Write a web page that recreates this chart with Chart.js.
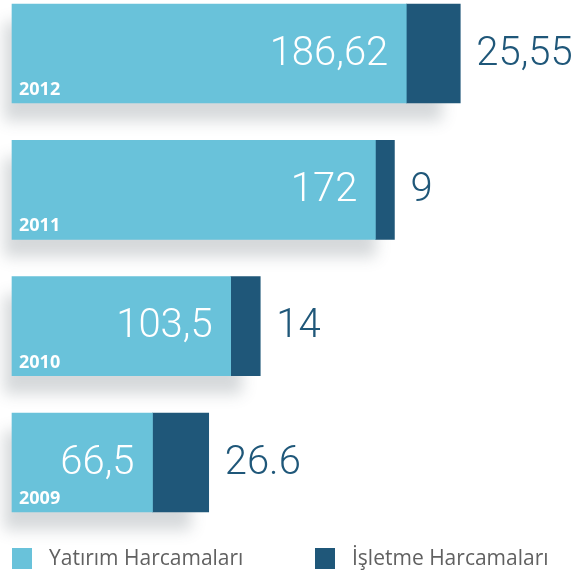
<!DOCTYPE html>
<html>
<head>
<meta charset="utf-8">
<script src="https://cdn.jsdelivr.net/npm/chart.js@4/dist/chart.umd.min.js"></script>
<style>
  html, body { margin:0; padding:0; background:#fff; }
  #wrap { position:relative; width:586px; height:575px; }
  #chart { position:absolute; left:0; top:0; }
  .legend { position:absolute; top:546px; font-family:'Open Sans', sans-serif; font-size:21px; color:#616161; }
  .legend span.sw { position:absolute; top:2px; width:20px; height:21px; }
  .legend span.tx { position:absolute; left:37px; top:-3px; white-space:nowrap; }
</style>
</head>
<body>
<div id="wrap">
  <canvas id="chart" width="586" height="575"></canvas>
  <div class="legend" style="left:12px;"><span class="sw" style="background:#69c2da;"></span><span class="tx">Yatırım Harcamaları</span></div>
  <div class="legend" style="left:315px;"><span class="sw" style="background:#1f5779;"></span><span class="tx">İşletme Harcamaları</span></div>
</div>
<script>
// ---- data ----
const years        = ['2012', '2011', '2010', '2009'];
const investValues = [186.62, 172, 103.5, 66.5];
const opValues     = [25.55, 9, 14, 26.6];
const investLabels = ['186,62', '172', '103,5', '66,5'];
const opLabels     = ['25,55', '9', '14', '26.6'];

const LIGHT = '#69c2da';
const DARK  = '#1f5779';
const NUM_FONT = '300 40px Roboto, sans-serif';

// soft grey shadow under each stacked bar
const shadowPlugin = {
  id: 'barShadow',
  beforeDatasetsDraw(chart) {
    const ctx = chart.ctx;
    const m0 = chart.getDatasetMeta(0), m1 = chart.getDatasetMeta(1);
    ctx.save();
    m0.data.forEach((bar, i) => {
      const end = m1.data[i].x;
      const left = bar.base, top = bar.y - bar.height / 2;
      const w = end - left, h = bar.height;
      const off = 10000;
      ctx.shadowColor = 'rgba(70,80,90,0.22)';
      ctx.shadowBlur = 14;
      ctx.shadowOffsetX = off;
      ctx.shadowOffsetY = 14;
      ctx.fillStyle = '#000';
      ctx.fillRect(left - 8 - off, top + 4, w - 10, h);
    });
    ctx.restore();
  }
};

// value labels + year tags
const labelPlugin = {
  id: 'barLabels',
  afterDatasetsDraw(chart) {
    const ctx = chart.ctx;
    const m0 = chart.getDatasetMeta(0), m1 = chart.getDatasetMeta(1);
    ctx.save();
    ctx.textBaseline = 'middle';
    m0.data.forEach((bar, i) => {
      ctx.font = NUM_FONT;
      ctx.fillStyle = '#ffffff';
      ctx.textAlign = 'right';
      ctx.fillText(investLabels[i], bar.x - 18, bar.y + 1);

      ctx.font = 'bold 18px "Open Sans", sans-serif';
      ctx.textAlign = 'left';
      ctx.textBaseline = 'alphabetic';
      ctx.fillText(years[i], bar.base + 7, bar.y + bar.height / 2 - 8);
      ctx.textBaseline = 'middle';

      const b1 = m1.data[i];
      ctx.font = NUM_FONT;
      ctx.fillStyle = DARK;
      ctx.textAlign = 'left';
      ctx.fillText(opLabels[i], b1.x + 16, b1.y + 1);
    });
    ctx.restore();
  }
};

new Chart(document.getElementById('chart'), {
  type: 'bar',
  data: {
    labels: years,
    datasets: [
      { label: 'Yatırım Harcamaları', data: investValues, backgroundColor: LIGHT, barThickness: 99, clip: false },
      { label: 'İşletme Harcamaları', data: opValues,     backgroundColor: DARK,  barThickness: 99, clip: false }
    ]
  },
  options: {
    indexAxis: 'y',
    responsive: false,
    animation: false,
    layout: { padding: { left: 12, right: 12, top: 53.5, bottom: 112.5 } },
    plugins: { legend: { display: false }, tooltip: { enabled: false } },
    scales: {
      x: { stacked: true, display: false, min: 0, max: 266 },
      y: { stacked: true, display: false, offset: false }
    }
  },
  plugins: [shadowPlugin, labelPlugin]
});
</script>
</body>
</html>
